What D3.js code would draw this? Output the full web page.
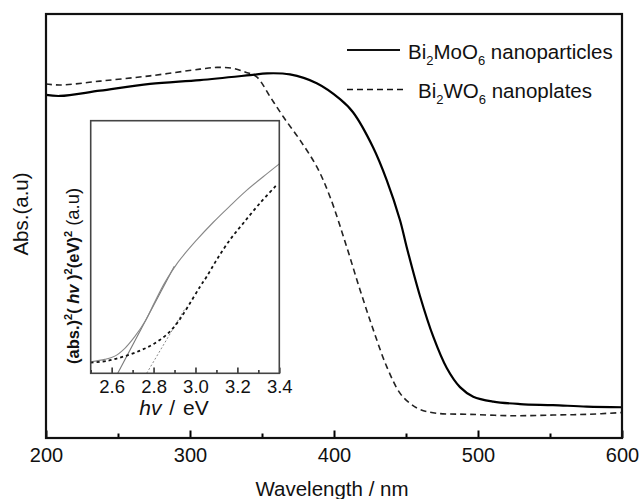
<!DOCTYPE html>
<html>
<head>
<meta charset="utf-8">
<script src="https://cdn.jsdelivr.net/npm/d3@7"></script>
<style>
  body { margin: 0; background: #fff; }
  svg { display: block; }
  text { font-family: "Liberation Sans", Arial, sans-serif; fill: #111; }
</style>
</head>
<body>
<svg id="chart" width="640" height="499"></svg>
<script>
// UV-vis absorption spectra (arbitrary units)
const moWavelength = [200, 209.7, 237.5, 272.2, 306.9, 341.7, 353.5, 369.4, 388.0, 404.2, 413.2, 427.1, 436.6, 445.8, 450.5, 459.7, 469.0, 478.3, 487.5, 496.7, 510.6, 529.2, 552.1, 575.5, 600];
const moAbs        = [0.971, 0.968, 0.983, 1.002, 1.013, 1.027, 1.032, 1.029, 1.004, 0.959, 0.922, 0.823, 0.730, 0.617, 0.540, 0.402, 0.286, 0.198, 0.144, 0.117, 0.103, 0.096, 0.093, 0.089, 0.087];

const woWavelength = [200, 209.7, 237.5, 272.2, 306.9, 318.8, 329.9, 338.2, 346.3, 355.6, 364.8, 376.4, 388.0, 397.2, 408.8, 418.1, 427.3, 436.6, 445.8, 452.8, 459.7, 471.3, 494.4, 524.5, 552.1, 575.5, 600];
const woAbs        = [1.002, 0.999, 1.010, 1.025, 1.044, 1.049, 1.046, 1.036, 1.022, 0.966, 0.909, 0.843, 0.768, 0.683, 0.541, 0.419, 0.306, 0.202, 0.127, 0.098, 0.081, 0.070, 0.067, 0.063, 0.065, 0.067, 0.072];

// Tauc plot: (abs·hv)^2 versus photon energy
const moEnergy = [2.500, 2.568, 2.615, 2.663, 2.710, 2.758, 2.806, 2.853, 2.917, 3.006, 3.085, 3.164, 3.244, 3.323, 3.400];
const moTauc   = [0.046, 0.055, 0.068, 0.099, 0.145, 0.204, 0.283, 0.358, 0.440, 0.528, 0.598, 0.662, 0.724, 0.778, 0.829];
const woEnergy = [2.500, 2.583, 2.663, 2.742, 2.806, 2.869, 2.917, 2.964, 3.021, 3.053, 3.101, 3.164, 3.228, 3.307, 3.387];
const woTauc   = [0.042, 0.050, 0.068, 0.092, 0.119, 0.158, 0.204, 0.264, 0.342, 0.382, 0.449, 0.528, 0.594, 0.673, 0.745];

// Linear extrapolations to the band-gap intercepts
const moFitEnergy = [2.629, 2.899];
const moFitTauc   = [0, 0.424];
const woFitEnergy = [2.767, 2.950];
const woFitTauc   = [0, 0.256];

// Tick values
const wlMajor = [200, 300, 400, 500, 600];
const wlMinor = [250, 350, 450, 550];
const evMajor = [2.6, 2.8, 3.0, 3.2, 3.4];
const evMinor = [2.5, 2.7, 2.9, 3.1, 3.3];

const svg = d3.select("#chart");
const zip = (xs, ys) => xs.map((v, i) => [v, ys[i]]);
const smooth = d3.curveCatmullRom.alpha(0.5);

// ---------- main panel ----------
const M = { left: 46, right: 622, top: 14, bottom: 438 };
const x = d3.scaleLinear([200, 600], [M.left, M.right]);
const y = d3.scaleLinear([0, 1.2], [M.bottom, M.top]);

const mainLine = d3.line().x(d => x(d[0])).y(d => y(d[1])).curve(smooth);

svg.append("path")
  .attr("d", mainLine(zip(woWavelength, woAbs)))
  .attr("fill", "none").attr("stroke", "#222").attr("stroke-width", 1.6)
  .attr("stroke-dasharray", "6,4");

svg.append("path")
  .attr("d", mainLine(zip(moWavelength, moAbs)))
  .attr("fill", "none").attr("stroke", "#000").attr("stroke-width", 2.2);

// bottom axis, ticks pointing inward
const gx = svg.append("g").attr("transform", `translate(0,${M.bottom})`)
  .call(d3.axisBottom(x).tickValues(wlMajor).tickSize(-7.5).tickPadding(9.5).tickFormat(d3.format("d")));
gx.select(".domain").remove();
gx.selectAll("line").attr("stroke", "#000").attr("stroke-width", 2);
gx.selectAll("text").attr("font-size", 20).style("font-family", "'Liberation Sans', Arial, sans-serif").attr("fill", "#111");

const gxm = svg.append("g").attr("transform", `translate(0,${M.bottom})`)
  .call(d3.axisBottom(x).tickValues(wlMinor).tickSize(-4.5).tickFormat(""));
gxm.select(".domain").remove();
gxm.selectAll("line").attr("stroke", "#000").attr("stroke-width", 2);

// frame
svg.append("rect")
  .attr("x", M.left).attr("y", M.top)
  .attr("width", M.right - M.left).attr("height", M.bottom - M.top)
  .attr("fill", "none").attr("stroke", "#111").attr("stroke-width", 2.2);

// axis titles
svg.append("text")
  .attr("x", (M.left + M.right) / 2 - 2).attr("y", 496)
  .attr("text-anchor", "middle").attr("font-size", 20.5)
  .text("Wavelength / nm");

svg.append("text")
  .attr("transform", "translate(28,214) rotate(-90)")
  .attr("text-anchor", "middle").attr("font-size", 20.5)
  .text("Abs.(a.u)");

// legend
const legend = [
  { y: 50, x0: 347, x1: 400, tx: 408, dash: null, width: 2.2, name: ["Bi", "2", "MoO", "6", " nanoparticles"] },
  { y: 89.5, x0: 347, x1: 403, tx: 418, dash: "6,4", width: 1.4, name: ["Bi", "2", "WO", "6", " nanoplates"] }
];
legend.forEach(item => {
  svg.append("line")
    .attr("x1", item.x0).attr("x2", item.x1).attr("y1", item.y).attr("y2", item.y)
    .attr("stroke", "#111").attr("stroke-width", item.width)
    .attr("stroke-dasharray", item.dash);
  const t = svg.append("text").attr("x", item.tx).attr("y", item.y + 8.5).attr("font-size", 20.5);
  t.append("tspan").text(item.name[0]);
  t.append("tspan").attr("dy", 6).attr("font-size", 13).text(item.name[1]);
  t.append("tspan").attr("dy", -6).text(item.name[2]);
  t.append("tspan").attr("dy", 6).attr("font-size", 13).text(item.name[3]);
  t.append("tspan").attr("dy", -6).text(item.name[4]);
});

// ---------- inset (Tauc plot) ----------
const I = { left: 90.7, right: 279.3, top: 120.7, bottom: 373.3 };
const ix = d3.scaleLinear([2.5, 3.4], [I.left, I.right]);
const iy = d3.scaleLinear([0, 1], [I.bottom, I.top]);

svg.append("rect")
  .attr("x", I.left).attr("y", I.top)
  .attr("width", I.right - I.left).attr("height", I.bottom - I.top)
  .attr("fill", "#fff");

svg.append("clipPath").attr("id", "insetClip")
  .append("rect")
  .attr("x", I.left).attr("y", I.top)
  .attr("width", I.right - I.left).attr("height", I.bottom - I.top);

const inset = svg.append("g").attr("clip-path", "url(#insetClip)");
const insetLine = d3.line().x(d => ix(d[0])).y(d => iy(d[1])).curve(smooth);
const straight = d3.line().x(d => ix(d[0])).y(d => iy(d[1]));

inset.append("path")
  .attr("d", straight(zip(woFitEnergy, woFitTauc)))
  .attr("fill", "none").attr("stroke", "#888").attr("stroke-width", 1)
  .attr("stroke-dasharray", "2,2");

inset.append("path")
  .attr("d", straight(zip(moFitEnergy, moFitTauc)))
  .attr("fill", "none").attr("stroke", "#777").attr("stroke-width", 1.1);

inset.append("path")
  .attr("d", insetLine(zip(moEnergy, moTauc)))
  .attr("fill", "none").attr("stroke", "#888").attr("stroke-width", 1.1);

inset.append("path")
  .attr("d", insetLine(zip(woEnergy, woTauc)))
  .attr("fill", "none").attr("stroke", "#111").attr("stroke-width", 1.8)
  .attr("stroke-dasharray", "3,3");

const ixa = svg.append("g").attr("transform", `translate(0,${I.bottom})`)
  .call(d3.axisBottom(ix).tickValues(evMajor).tickSize(-5.7).tickPadding(7).tickFormat(d3.format(".1f")));
ixa.select(".domain").remove();
ixa.selectAll("line").attr("stroke", "#333").attr("stroke-width", 1.6);
ixa.selectAll("text").attr("font-size", 18.5).style("font-family", "'Liberation Sans', Arial, sans-serif").attr("fill", "#111");

const ixm = svg.append("g").attr("transform", `translate(0,${I.bottom})`)
  .call(d3.axisBottom(ix).tickValues(evMinor).tickSize(-3.3).tickFormat(""));
ixm.select(".domain").remove();
ixm.selectAll("line").attr("stroke", "#333").attr("stroke-width", 1.6);

svg.append("rect")
  .attr("x", I.left).attr("y", I.top)
  .attr("width", I.right - I.left).attr("height", I.bottom - I.top)
  .attr("fill", "none").attr("stroke", "#444").attr("stroke-width", 1.6);

// inset axis titles
const ixt = svg.append("text")
  .attr("x", 174).attr("y", 415).attr("text-anchor", "middle").attr("font-size", 21)
  .attr("word-spacing", 2);
ixt.append("tspan").attr("font-style", "italic").text("hv");
ixt.append("tspan").text(" / eV");

const iyt = svg.append("text")
  .attr("transform", "translate(79,364) rotate(-90)")
  .attr("text-anchor", "start").attr("font-size", 16.5).attr("font-weight", "bold");
iyt.append("tspan").text("(abs.)");
iyt.append("tspan").attr("dy", -7).attr("font-size", 11).text("2");
iyt.append("tspan").attr("dy", 7).text("( ");
iyt.append("tspan").attr("font-style", "italic").text("hv");
iyt.append("tspan").text(" )");
iyt.append("tspan").attr("dy", -7).attr("font-size", 11).text("2");
iyt.append("tspan").attr("dy", 7).text("(eV)");
iyt.append("tspan").attr("dy", -7).attr("font-size", 11).text("2");
iyt.append("tspan").attr("dy", 7).attr("font-weight", "normal").attr("font-size", 18.5).text(" (a.u)");
</script>
</body>
</html>
